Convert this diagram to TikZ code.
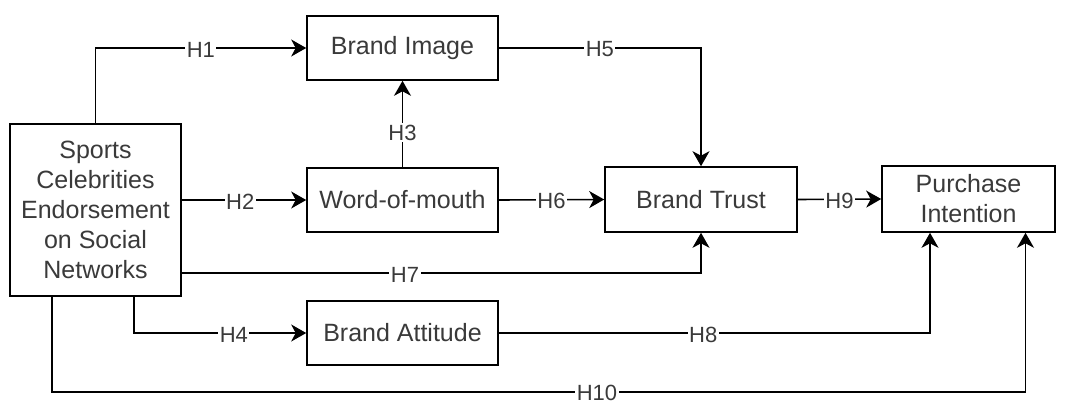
\documentclass[tikz,border=0pt]{standalone}
\usepackage{fontspec}
\setmainfont{Liberation Sans}
\usetikzlibrary{arrows.meta,calc}
\definecolor{txt}{HTML}{3a3a3a}
\begin{document}
\begin{tikzpicture}[x=1pt,y=-1pt,
  box/.style={draw=black,line width=1.6pt,inner sep=0pt,align=center,
    text=txt,font=\fontsize{25}{30}\selectfont},
  link/.style={draw=black,line width=1.6pt,
    -{Stealth[length=15pt,width=17pt,inset=4.5pt]}},
  lbl/.style={fill=white,inner sep=1.5pt,text=txt,yshift=-1.5pt,
    font=\fontsize{22}{24}\selectfont}]
\useasboundingbox (0,0) rectangle (1065,404);
\fill[white] (0,0) rectangle (1065,404);

% constructs
\node[box,minimum width=171pt,minimum height=172pt] (sports) at (95.5,210)
  {Sports\\Celebrities\\Endorsement\\on Social\\Networks};
\node[box,minimum width=191pt,minimum height=64pt] (img) at (402.5,48) {Brand Image};
\node[box,minimum width=191pt,minimum height=64pt] (wom) at (402.5,200) {Word-of-mouth};
\node[box,minimum width=191pt,minimum height=64pt] (att) at (402.5,333) {Brand Attitude};
\node[box,minimum width=192pt,minimum height=65pt] (trust) at (701,199.5) {Brand Trust};
\node[box,minimum width=173pt,minimum height=66pt] (purch) at (968.5,199) {Purchase\\Intention};

\coordinate (h10c) at (597,392);

% hypotheses
\draw[link] (sports.north) |- node[lbl,pos=0.75] {H1} (img.west);
\draw[link] (sports.east |- wom.west) -- node[lbl,pos=0.47] {H2} (wom.west);
\draw[link] (wom.north) -- node[lbl,pos=0.4,yshift=1.5pt] {H3} (img.south);
\draw[link] ([xshift=38.5pt]sports.south) |- node[lbl,pos=0.79] {H4} (att.west);
\draw[link] (img.east) -| node[lbl,pos=0.25] {H5} (trust.north);
\draw[link] (wom.east) -- node[lbl] {H6} (trust.west);
\draw[link] ([yshift=-63pt]sports.east) -| node[lbl,pos=0.215] {H7} (trust.south);
\draw[link] (att.east) -| node[lbl,pos=0.237] {H8} ([xshift=-38.5pt]purch.south);
\draw[link] (trust.east) -- node[lbl] {H9} (purch.west);
\draw[link] ([xshift=-43.5pt]sports.south) |- (h10c)
  node[lbl,yshift=1pt,inner ysep=0.5pt] {H10}
  -| ([xshift=57pt]purch.south);
\end{tikzpicture}
\end{document}
